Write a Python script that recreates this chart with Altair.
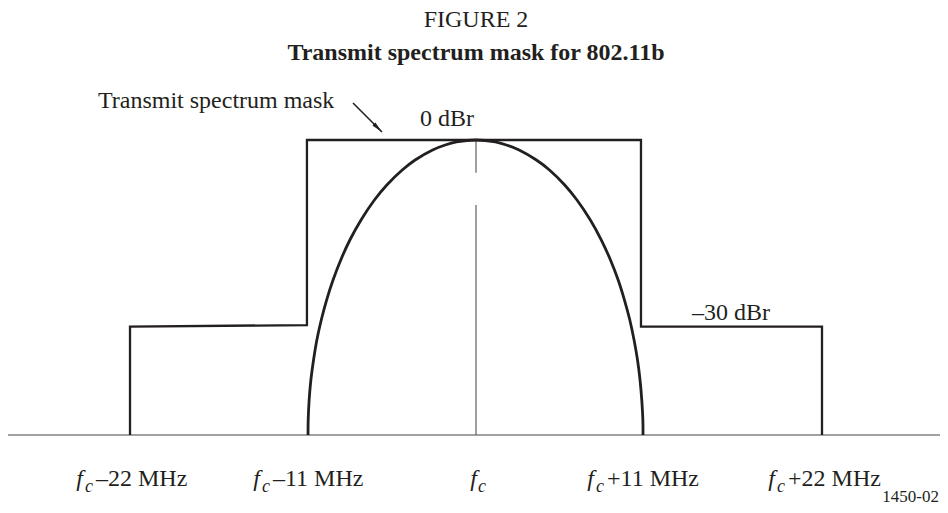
import altair as alt
import pandas as pd

# ---- data (x in MHz from f_c, y in dBr) ----
baseline_db = -47.58

mask_x = [-22.0, -22.0, -10.75, -10.75, 10.49, 10.49, 22.0, 22.0]
mask_y = [baseline_db, -30.1, -29.85, 0.0, 0.0, -30.1, -30.1, baseline_db]

# spectrum curve (left foot -> peak -> right foot)
curve_x = [-10.68, -10.67, -10.61, -10.50, -10.33, -10.12, -9.84, -9.50, -9.09,
           -8.60, -8.02, -7.31, -6.46, -5.67, -4.69, -3.87, -2.76, -1.96, -1.24,
           0.0,
           1.23, 1.93, 2.74, 3.84, 4.67, 5.64, 6.42, 7.27, 7.97, 8.55, 9.04,
           9.44, 9.78, 10.05, 10.27, 10.43, 10.54, 10.61, 10.62]
curve_y = [-47.58, -45.16, -41.94, -38.71, -35.48, -32.26, -29.03, -25.81, -22.58,
           -19.35, -16.13, -12.90, -9.68, -7.26, -4.84, -3.23, -1.61, -0.81, -0.32,
           0.0,
           -0.32, -0.81, -1.61, -3.23, -4.84, -7.26, -9.68, -12.90, -16.13, -19.35,
           -22.58, -25.81, -29.03, -32.26, -35.48, -38.71, -41.94, -45.16, -47.58]

center_top = [0.0, -10.5]
center_bot = [-5.3, baseline_db]

tick_pos = [-22.0, -10.75, 0.0, 10.49, 22.0]
tick_rest = ["\u201322 MHz", "\u201311 MHz", "", "+11 MHz", "+22 MHz"]
label_y = -55.81

x_domain = [-29.758, 29.503]
y_domain = [-58.871, 9.677]

FONT = "Liberation Serif"
INK = "#231f20"

xs = alt.Scale(domain=x_domain, nice=False, zero=False)
ys = alt.Scale(domain=y_domain, nice=False, zero=False)
X = lambda f: alt.X(f, type="quantitative", scale=xs, axis=None)
Y = lambda f: alt.Y(f, type="quantitative", scale=ys, axis=None)

mask_df = pd.DataFrame({"x": mask_x, "y": mask_y, "o": range(len(mask_x))})
curve_df = pd.DataFrame({"x": curve_x, "y": curve_y, "o": range(len(curve_x))})
center_df = pd.DataFrame({"x": [0.0, 0.0], "y": center_top, "y2": center_bot})
base_df = pd.DataFrame({"x": [x_domain[0]], "x2": [x_domain[1]], "y": [baseline_db]})

lab_df = pd.DataFrame({"x": tick_pos, "rest": tick_rest, "y": label_y})
lab_df["f"] = "f"
lab_df["c"] = "c"
lab_df["has_rest"] = lab_df["rest"] != ""

base = alt.Chart(base_df).mark_rule(color="#444444", strokeWidth=1.2).encode(
    x=X("x"), x2="x2", y=Y("y"))

center = alt.Chart(center_df).mark_rule(color="#6d6a6a", strokeWidth=1.3).encode(
    x=X("x"), y=Y("y"), y2="y2")

mask = alt.Chart(mask_df).mark_line(color=INK, strokeWidth=2.3, strokeJoin="miter").encode(
    x=X("x"), y=Y("y"), order="o")

curve = alt.Chart(curve_df).mark_line(color=INK, strokeWidth=2.8, interpolate="catmull-rom").encode(
    x=X("x"), y=Y("y"), order="o")

txt = dict(font=FONT, fontSize=24, color=INK, baseline="alphabetic")

rest_df = lab_df[lab_df["has_rest"]]
ctr_df = lab_df[~lab_df["has_rest"]]

f_side = alt.Chart(rest_df).mark_text(fontStyle="italic", align="right", dx=-47, **txt).encode(
    x=X("x"), y=Y("y"), text="f")
c_side = alt.Chart(rest_df).mark_text(fontStyle="italic", align="left", dx=-45, dy=6,
                                      font=FONT, fontSize=18, color=INK, baseline="alphabetic").encode(
    x=X("x"), y=Y("y"), text="c")
r_side = alt.Chart(rest_df).mark_text(align="left", dx=-34, **txt).encode(
    x=X("x"), y=Y("y"), text="rest")
f_ctr = alt.Chart(ctr_df).mark_text(fontStyle="italic", align="right", dx=1, **txt).encode(
    x=X("x"), y=Y("y"), text="f")
c_ctr = alt.Chart(ctr_df).mark_text(fontStyle="italic", align="left", dx=2, dy=6,
                                    font=FONT, fontSize=18, color=INK, baseline="alphabetic").encode(
    x=X("x"), y=Y("y"), text="c")

ann_df = pd.DataFrame({
    "x": [-24.04, -1.84, 16.21],
    "y": [5.16, 2.26, -29.03],
    "t": ["Transmit spectrum mask", "0 dBr", "\u201330 dBr"],
})
ann_left = alt.Chart(ann_df.iloc[[0]]).mark_text(align="left", **txt).encode(
    x=X("x"), y=Y("y"), text="t")
ann_ctr = alt.Chart(ann_df.iloc[[1, 2]]).mark_text(align="center", **txt).encode(
    x=X("x"), y=Y("y"), text="t")

arrow_df = pd.DataFrame({"x": [-7.82], "y": [5.97], "x2": [-5.98], "y2": [1.29]})
arrow_line = alt.Chart(arrow_df).mark_rule(color=INK, strokeWidth=1.6).encode(
    x=X("x"), y=Y("y"), x2="x2", y2="y2")
arrow_head = alt.Chart(arrow_df).mark_point(
    shape="M0,0 L0.38,2 L-0.38,2 Z", filled=True, color=INK, opacity=1,
    size=130, angle=135, strokeWidth=0).encode(
    x=X("x2"), y=Y("y2"))

code_df = pd.DataFrame({"x": [29.44], "y": [-58.31], "t": ["1450-02"]})
code = alt.Chart(code_df).mark_text(align="right", font=FONT, fontSize=17, color=INK,
                                    baseline="alphabetic").encode(
    x=X("x"), y=Y("y"), text="t")

chart = alt.layer(
    base, center, mask, curve, f_side, c_side, r_side, f_ctr, c_ctr,
    ann_left, ann_ctr, arrow_line, arrow_head, code
).properties(
    width=932, height=425,
    background="white",
    padding={"left": 0, "right": 0, "top": 72, "bottom": 0},
    autosize=alt.AutoSizeParams(type="none"),
    title=alt.TitleParams(
        text="FIGURE 2", subtitle="Transmit spectrum mask for 802.11b",
        font=FONT, fontSize=24, fontWeight="normal", color=INK,
        subtitleFont=FONT, subtitleFontSize=24, subtitleFontWeight="bold",
        subtitleColor=INK, anchor="middle", offset=15, subtitlePadding=9, dx=2),
).configure_view(stroke=None)

chart.save("out.html", embed_options={"renderer": "svg", "actions": False})
